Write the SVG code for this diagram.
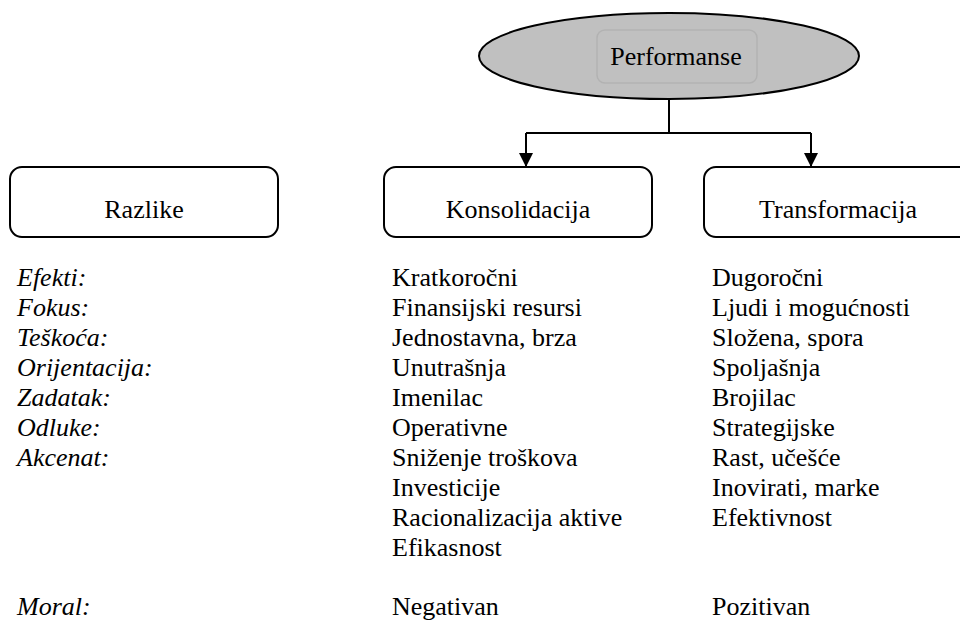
<svg xmlns="http://www.w3.org/2000/svg" width="960" height="627" viewBox="0 0 960 627">
<defs>
<marker id="arr" markerWidth="7" markerHeight="7" refX="6.5" refY="3.5" orient="auto" markerUnits="strokeWidth">
<path d="M0,0 L7,3.5 L0,7 Z" fill="#000"/>
</marker>
</defs>
<rect width="960" height="627" fill="#fff"/>
<g id="performanse">
<ellipse cx="669" cy="56" rx="190" ry="43" fill="#c0c0c0" stroke="#000" stroke-width="2"/>
<rect x="597" y="30" width="160" height="53" rx="8" fill="#c0c0c0" stroke="#b2b2b2" stroke-width="1.5"/>
<text x="676" y="65" font-family="Times New Roman, Liberation Serif, serif" font-size="26" text-anchor="middle">Performanse</text>
</g>
<g id="connectors" fill="none" stroke="#000" stroke-width="2">
<path d="M669,99 V133 M526,133 H811"/>
<path d="M526,133 V166" marker-end="url(#arr)"/>
<path d="M811,133 V166" marker-end="url(#arr)"/>
</g>
<g id="razlike">
<rect x="10" y="167" width="268" height="70" rx="12" fill="#fff" stroke="#000" stroke-width="2"/>
<text x="144" y="218" font-family="Times New Roman, Liberation Serif, serif" font-size="26" text-anchor="middle">Razlike</text>
</g>
<g id="konsolidacija">
<rect x="384" y="167" width="268" height="70" rx="12" fill="#fff" stroke="#000" stroke-width="2"/>
<text x="518" y="218" font-family="Times New Roman, Liberation Serif, serif" font-size="26" text-anchor="middle">Konsolidacija</text>
</g>
<g id="transformacija">
<rect x="704" y="167" width="268" height="70" rx="12" fill="#fff" stroke="#000" stroke-width="2"/>
<text x="838" y="218" font-family="Times New Roman, Liberation Serif, serif" font-size="26" text-anchor="middle">Transformacija</text>
</g>
<g id="labels" font-family="Times New Roman, Liberation Serif, serif" font-size="26" font-style="italic">
<text x="17" y="286">Efekti:</text>
<text x="17" y="316">Fokus:</text>
<text x="17" y="346">Teškoća:</text>
<text x="17" y="376">Orijentacija:</text>
<text x="17" y="406">Zadatak:</text>
<text x="17" y="436">Odluke:</text>
<text x="17" y="466">Akcenat:</text>
<text x="17" y="615">Moral:</text>
</g>
<g id="konsolidacija-values" font-family="Times New Roman, Liberation Serif, serif" font-size="26">
<text x="392" y="286">Kratkoročni</text>
<text x="392" y="316">Finansijski resursi</text>
<text x="392" y="346">Jednostavna, brza</text>
<text x="392" y="376">Unutrašnja</text>
<text x="392" y="406">Imenilac</text>
<text x="392" y="436">Operativne</text>
<text x="392" y="466">Sniženje troškova</text>
<text x="392" y="496">Investicije</text>
<text x="392" y="526">Racionalizacija aktive</text>
<text x="392" y="556">Efikasnost</text>
<text x="392" y="615">Negativan</text>
</g>
<g id="transformacija-values" font-family="Times New Roman, Liberation Serif, serif" font-size="26">
<text x="712" y="286">Dugoročni</text>
<text x="712" y="316">Ljudi i mogućnosti</text>
<text x="712" y="346">Složena, spora</text>
<text x="712" y="376">Spoljašnja</text>
<text x="712" y="406">Brojilac</text>
<text x="712" y="436">Strategijske</text>
<text x="712" y="466">Rast, učešće</text>
<text x="712" y="496">Inovirati, marke</text>
<text x="712" y="526">Efektivnost</text>
<text x="712" y="615">Pozitivan</text>
</g>
</svg>
